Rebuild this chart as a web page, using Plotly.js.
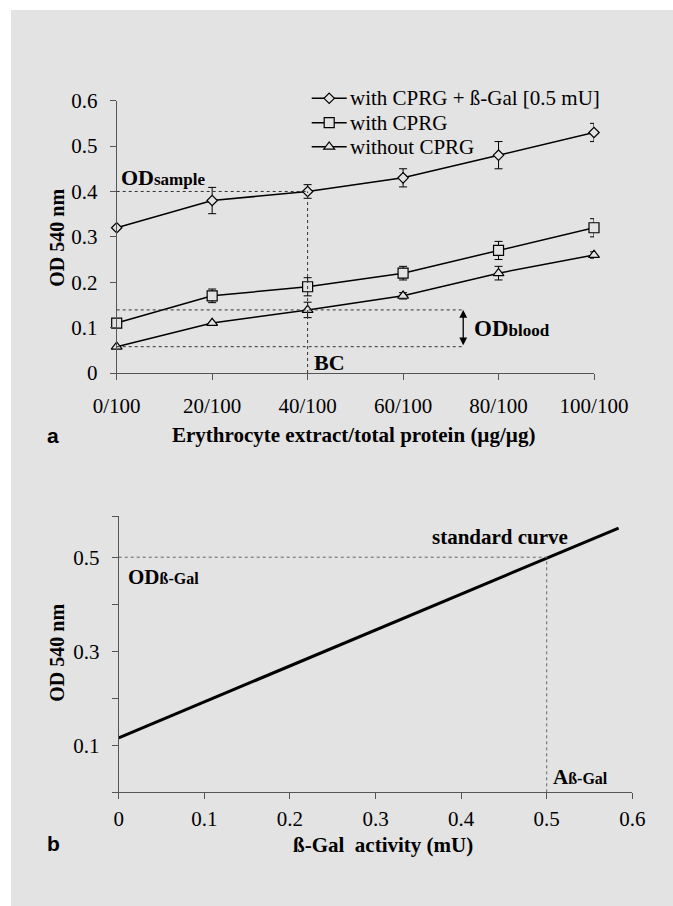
<!DOCTYPE html>
<html>
<head>
<meta charset="utf-8">
<script src="https://cdn.plot.ly/plotly-3.0.1.min.js"></script>
<style>
  html, body { margin: 0; padding: 0; background: #ffffff; }
  #chart { width: 673px; height: 906px; }
</style>
</head>
<body>
<div id="chart"></div>
<script>
// Panel a: OD 540 nm against erythrocyte extract share of total protein
const ratioValues = [0, 20, 40, 60, 80, 100];
const ratioLabels = ['0/100', '20/100', '40/100', '60/100', '80/100', '100/100'];

const odWithGal = [0.32, 0.38, 0.40, 0.43, 0.48, 0.53];
const errWithGal = [0, 0.029, 0.015, 0.02, 0.03, 0.02];

const odWithCprg = [0.11, 0.17, 0.19, 0.22, 0.27, 0.32];
const errWithCprg = [0, 0.015, 0.02, 0.015, 0.02, 0.02];

const odWithoutCprg = [0.058, 0.11, 0.139, 0.17, 0.22, 0.26];
const errWithoutCprg = [0, 0, 0.017, 0.007, 0.015, 0.007];

const seriesNames = ['with CPRG + ß-Gal [0.5 mU]', 'with CPRG', 'without CPRG'];

const yTicksA = [0, 0.1, 0.2, 0.3, 0.4, 0.5, 0.6];

// the reading at 40/100 and the span used for OD blood
const bcIndex = 2;
const odBloodX = 72.6;

// Panel b: standard curve of ß-Gal activity
const activity = [0, 0.584];
const odStandard = [0.116, 0.562];
const readoutOd = 0.5;
const readoutActivity = 0.5;

const xTicksB = [0, 0.1, 0.2, 0.3, 0.4, 0.5, 0.6];
const xLabelsB = ['0', '0.1', '0.2', '0.3', '0.4', '0.5', '0.6'];
const yTicksB = [0, 0.1, 0.2, 0.3, 0.4, 0.5, 0.587];
const yLabelsB = ['', '0.1', '', '0.3', '', '0.5', ''];

const W = 673, H = 906;
const px = v => v / W;
const py = v => 1 - v / H;

const BG = '#e3e3e3';
const AXIS = '#555555';
const SERIF = '"Liberation Serif", "Times New Roman", serif';
const SANS = '"Liberation Sans", Arial, sans-serif';

const symbols = [
  { name: 'diamond', size: 8 },
  { name: 'square', size: 10 },
  { name: 'triangle-up', size: 9.5 }
];

function seriesTrace(y, err, sym, name) {
  return {
    x: ratioValues, y: y, name: name, type: 'scatter', mode: 'lines+markers',
    xaxis: 'x', yaxis: 'y', cliponaxis: false, showlegend: false,
    line: { color: '#000000', width: 1.5 },
    marker: { symbol: sym.name, size: sym.size, color: BG, line: { color: '#000000', width: 1.2 } },
    error_y: { type: 'data', array: err, visible: true, color: '#000000', thickness: 1, width: 4 }
  };
}

const traces = [
  seriesTrace(odWithGal, errWithGal, symbols[0], seriesNames[0]),
  seriesTrace(odWithCprg, errWithCprg, symbols[1], seriesNames[1]),
  seriesTrace(odWithoutCprg, errWithoutCprg, symbols[2], seriesNames[2]),
  {
    x: activity, y: odStandard, type: 'scatter', mode: 'lines', showlegend: false,
    xaxis: 'x2', yaxis: 'y2', cliponaxis: false,
    line: { color: '#000000', width: 3 }
  }
];

const dotted = { color: '#333333', width: 1, dash: 'dot' };
const dottedB = { color: '#666666', width: 1, dash: 'dot' };

const shapes = [
  // grey panel
  { type: 'rect', xref: 'paper', yref: 'paper', x0: px(11), x1: 1, y0: 0, y1: py(10),
    fillcolor: BG, line: { width: 0 }, layer: 'below' },
  // OD sample reading
  { type: 'line', xref: 'x', yref: 'y', x0: 0, x1: ratioValues[bcIndex],
    y0: odWithGal[bcIndex], y1: odWithGal[bcIndex], line: dotted },
  { type: 'line', xref: 'x', yref: 'y', x0: ratioValues[bcIndex], x1: ratioValues[bcIndex],
    y0: 0, y1: odWithGal[bcIndex], line: dotted },
  // OD blood span
  { type: 'line', xref: 'x', yref: 'y', x0: 0, x1: odBloodX,
    y0: odWithoutCprg[bcIndex], y1: odWithoutCprg[bcIndex], line: dotted },
  { type: 'line', xref: 'x', yref: 'y', x0: 0, x1: odBloodX,
    y0: odWithoutCprg[0], y1: odWithoutCprg[0], line: dotted },
  // standard curve readout
  { type: 'line', xref: 'x2', yref: 'y2', x0: 0, x1: readoutActivity,
    y0: readoutOd, y1: readoutOd, line: dottedB },
  { type: 'line', xref: 'x2', yref: 'y2', x0: readoutActivity, x1: readoutActivity,
    y0: 0, y1: readoutOd, line: dottedB }
];

function label(text, x, y, opts) {
  return Object.assign({
    text: text, xref: 'paper', yref: 'paper', x: x, y: y,
    showarrow: false, xanchor: 'left', yanchor: 'middle',
    font: { family: SERIF, size: 21, color: '#000000' }
  }, opts || {});
}

const annotations = [
  // double arrow for OD blood
  { xref: 'x', yref: 'y', axref: 'x', ayref: 'y',
    x: odBloodX, y: odWithoutCprg[bcIndex], ax: odBloodX, ay: odWithoutCprg[0],
    text: '', showarrow: true, arrowside: 'end+start', arrowhead: 2, startarrowhead: 2,
    arrowsize: 1.2, startarrowsize: 1.2, arrowwidth: 1.3, arrowcolor: '#000000',
    standoff: 0, startstandoff: 0 },
  label('<b>OD<span style="font-size:17px">sample</span></b>', px(119), py(177), { font: { family: SERIF, size: 22, color: '#000' } }),
  label('<b>BC</b>', px(329), py(363), { xanchor: 'center', font: { family: SERIF, size: 22, color: '#000' } }),
  label('<b>OD<span style="font-size:17px">blood</span></b>', px(472), py(328), { font: { family: SERIF, size: 23, color: '#000' } }),
  label('<b>OD<span style="font-size:16px">ß-Gal</span></b>', px(126), py(577), { font: { family: SERIF, size: 21, color: '#000' } }),
  label('<b>standard curve</b>', px(500), py(537), { xanchor: 'center' }),
  label('<b>A<span style="font-size:16px">ß-Gal</span></b>', px(551), py(777), { font: { family: SERIF, size: 21, color: '#000' } }),
  // axis titles
  label('<b>OD 540 nm</b>', px(56.7), py(238), { xanchor: 'center', textangle: -90, font: { family: SERIF, size: 20, color: '#000' } }),
  label('<b>Erythrocyte extract/total protein (µg/µg)</b>', px(353), py(435), { xanchor: 'center' }),
  label('<b>OD 540 nm</b>', px(56.7), py(653), { xanchor: 'center', textangle: -90, font: { family: SERIF, size: 20, color: '#000' } }),
  label('<b>ß-Gal\u00a0 activity (mU)</b>', px(383), py(845), { xanchor: 'center' }),
  // panel letters
  label('<b>a</b>', px(53), py(435), { xanchor: 'center', font: { family: SANS, size: 21, color: '#000' } }),
  label('<b>b</b>', px(53), py(843), { xanchor: 'center', font: { family: SANS, size: 21, color: '#000' } })
];

// Key for panel a: line sample, hollow symbol and series name per row
const keyRows = [98.3, 122.7, 146.7];
const keyX0 = 311.7, keyX1 = 346.7, keyMid = 329.2, keyText = 348;

function pixelPath(points) {
  return points.map((p, i) => (i ? 'L' : 'M') + px(p[0]).toFixed(5) + ',' + py(p[1]).toFixed(5)).join(' ') + ' Z';
}
function symbolOutline(sym, cx, cy) {
  const r = sym.size / 2;
  if (sym.name === 'diamond') {
    const d = r * 1.3;
    return [[cx, cy - d], [cx + d, cy], [cx, cy + d], [cx - d, cy]];
  }
  if (sym.name === 'square') {
    return [[cx - r, cy - r], [cx + r, cy - r], [cx + r, cy + r], [cx - r, cy + r]];
  }
  const rt = r * 2 / Math.sqrt(3), rs = r / 2;
  return [[cx - rt, cy + rs], [cx + rt, cy + rs], [cx, cy - r]];
}

seriesNames.forEach((name, i) => {
  const y = keyRows[i];
  shapes.push({ type: 'line', xref: 'paper', yref: 'paper',
    x0: px(keyX0), x1: px(keyX1), y0: py(y), y1: py(y),
    line: { color: '#000000', width: 1.5 } });
  shapes.push({ type: 'path', xref: 'paper', yref: 'paper',
    path: pixelPath(symbolOutline(symbols[i], keyMid, y)),
    fillcolor: BG, line: { color: '#000000', width: 1.2 } });
  annotations.push(label(name, px(keyText), py(y)));
});

const axisBase = {
  showline: true, linecolor: AXIS, linewidth: 1, mirror: false,
  ticks: 'outside', ticklen: 6, tickwidth: 1, tickcolor: AXIS,
  showgrid: false, zeroline: false, fixedrange: true,
  tickfont: { family: SERIF, size: 21, color: '#000000' }
};

const layout = {
  width: W, height: H, autosize: false,
  margin: { l: 0, r: 0, t: 0, b: 0, pad: 0 },
  paper_bgcolor: '#ffffff', plot_bgcolor: 'rgba(0,0,0,0)',
  font: { family: SERIF, size: 21, color: '#000000' },
  showlegend: false,
  xaxis: Object.assign({}, axisBase, {
    domain: [px(116.7), px(594)], range: [0, 100],
    tickvals: ratioValues, ticktext: ratioLabels, anchor: 'y', ticklabelstandoff: 8
  }),
  yaxis: Object.assign({}, axisBase, {
    domain: [py(373), py(100.7)], range: [0, 0.6],
    tickvals: yTicksA, anchor: 'x', ticklabelstandoff: 8
  }),
  xaxis2: Object.assign({}, axisBase, {
    domain: [px(118.7), px(632.3)], range: [0, 0.6],
    tickvals: xTicksB, ticktext: xLabelsB, anchor: 'y2', ticklabelstandoff: 1
  }),
  yaxis2: Object.assign({}, axisBase, {
    domain: [py(792.3), py(516.3)], range: [0, 0.587],
    tickvals: yTicksB, ticktext: yLabelsB, anchor: 'x2', ticklabelstandoff: 8
  }),
  shapes: shapes,
  annotations: annotations
};

Plotly.newPlot('chart', traces, layout, { displayModeBar: false, staticPlot: true });
</script>
</body>
</html>
